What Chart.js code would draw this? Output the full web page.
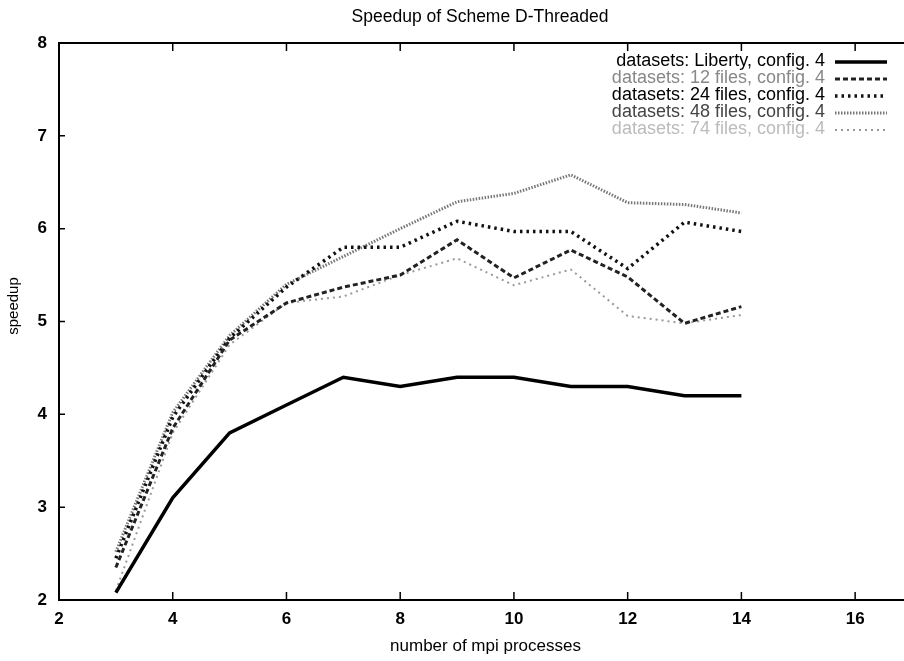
<!DOCTYPE html>
<html>
<head>
<meta charset="utf-8">
<script src="https://cdn.jsdelivr.net/npm/chart.js@4/dist/chart.umd.min.js"></script>
<style>
  html, body { margin: 0; padding: 0; background: #fff; overflow: hidden; }
  #wrap { width: 915px; height: 661px; }
</style>
</head>
<body>
<div id="wrap"><canvas id="myChart"></canvas></div>
<script>
// data
const procs = [3, 4, 5, 6, 7, 8, 9, 10, 11, 12, 13, 14];
const liberty = [2.08, 3.1, 3.8, 4.1, 4.4, 4.3, 4.4, 4.4, 4.3, 4.3, 4.2, 4.2];
const files12 = [2.35, 3.85, 4.8, 5.2, 5.37, 5.5, 5.88, 5.47, 5.77, 5.48, 4.98, 5.16];
const files24 = [2.45, 3.97, 4.82, 5.37, 5.8, 5.8, 6.08, 5.97, 5.97, 5.57, 6.07, 5.97];
const files48 = [2.52, 4.02, 4.85, 5.4, 5.7, 6.0, 6.29, 6.38, 6.58, 6.28, 6.26, 6.17];
const files74 = [2.1, 3.8, 4.75, 5.2, 5.27, 5.5, 5.68, 5.39, 5.56, 5.06, 4.98, 5.07];
const xTicks = [2, 4, 6, 8, 10, 12, 14, 16];
const yTicks = [2, 3, 4, 5, 6, 7, 8];

const pts = arr => arr.map((v, i) => ({ x: procs[i], y: v }));
const FONT = '"Liberation Sans", Arial, sans-serif';

// gnuplot style box: frame + inner ticks + legend on the right + titles
const framePlugin = {
  id: 'frame',
  afterDatasetsDraw(chart) {
    const ctx = chart.ctx;
    const a = chart.chartArea;
    const xs = chart.scales.x, ys = chart.scales.y;
    ctx.save();
    ctx.strokeStyle = '#000';
    ctx.lineWidth = 2;
    ctx.strokeRect(a.left, a.top, a.right - a.left, a.bottom - a.top);
    ctx.lineWidth = 1.5;
    ctx.beginPath();
    xTicks.forEach(v => {
      const px = xs.getPixelForValue(v);
      ctx.moveTo(px, a.bottom); ctx.lineTo(px, a.bottom - 8);
      ctx.moveTo(px, a.top); ctx.lineTo(px, a.top + 8);
    });
    yTicks.forEach(v => {
      const py = ys.getPixelForValue(v);
      ctx.moveTo(a.left, py); ctx.lineTo(a.left + 6, py);
      ctx.moveTo(a.right, py); ctx.lineTo(a.right - 6, py);
    });
    ctx.stroke();

    // legend
    const textColors = ['#000', '#888', '#000', '#444', '#bbb'];
    ctx.font = '18px ' + FONT;
    ctx.textAlign = 'right';
    ctx.textBaseline = 'middle';
    chart.data.datasets.forEach((ds, i) => {
      const y = 61 + i * 17;
      ctx.fillStyle = textColors[i];
      ctx.fillText(ds.label, a.right - 87, y);
      ctx.strokeStyle = ds.borderColor;
      ctx.lineWidth = ds.borderWidth;
      ctx.setLineDash(ds.borderDash || []);
      ctx.beginPath();
      ctx.moveTo(a.right - 77, y + 1);
      ctx.lineTo(a.right - 25, y + 1);
      ctx.stroke();
      ctx.setLineDash([]);
    });

    // title, centred over the plot box like gnuplot does
    ctx.fillStyle = '#000';
    ctx.textAlign = 'center';
    ctx.font = '17.5px ' + FONT;
    ctx.fillText('Speedup of Scheme D-Threaded', 480, 17);

    // y axis title
    ctx.font = '15px ' + FONT;
    ctx.translate(14, 306);
    ctx.rotate(-Math.PI / 2);
    ctx.fillText('speedup', 0, 0);
    ctx.restore();
  }
};

const ctx = document.getElementById('myChart').getContext('2d');
const myChart = new Chart(ctx, {
  type: 'line',
  data: {
    datasets: [
      { label: 'datasets: Liberty, config. 4', data: pts(liberty), borderColor: '#000', borderWidth: 3.5 },
      { label: 'datasets: 12 files, config. 4', data: pts(files12), borderColor: '#222', borderWidth: 3, borderDash: [5, 3] },
      { label: 'datasets: 24 files, config. 4', data: pts(files24), borderColor: '#111', borderWidth: 3.5, borderDash: [2.5, 4] },
      { label: 'datasets: 48 files, config. 4', data: pts(files48), borderColor: '#777', borderWidth: 3, borderDash: [1.5, 1.5] },
      { label: 'datasets: 74 files, config. 4', data: pts(files74), borderColor: '#999', borderWidth: 2, borderDash: [2, 4] }
    ]
  },
  options: {
    responsive: true,
    maintainAspectRatio: false,
    animation: false,
    elements: { point: { radius: 0 }, line: { tension: 0, fill: false } },
    layout: { padding: { top: 43, left: 0, right: 3, bottom: 0 } },
    plugins: {
      legend: { display: false },
      tooltip: { enabled: false },
      title: { display: false }
    },
    scales: {
      x: {
        type: 'linear',
        min: 2,
        max: 17,
        afterBuildTicks: s => { s.ticks = xTicks.map(v => ({ value: v })); },
        afterFit: s => { s.height = 61; },
        grid: { display: false, drawTicks: false },
        border: { display: false },
        ticks: {
          padding: 9,
          color: '#000',
          font: { family: FONT, size: 17, weight: 'bold' }
        },
        title: {
          display: true,
          text: 'number of mpi processes',
          color: '#000',
          padding: { top: 0, bottom: 4 },
          font: { family: FONT, size: 17 }
        }
      },
      y: {
        min: 2,
        max: 8,
        afterBuildTicks: s => { s.ticks = yTicks.map(v => ({ value: v })); },
        afterFit: s => { s.width = 59; },
        grid: { display: false, drawTicks: false },
        border: { display: false },
        ticks: {
          padding: 12,
          color: '#000',
          font: { family: FONT, size: 17, weight: 'bold' }
        },
        title: { display: false }
      }
    }
  },
  plugins: [framePlugin]
});
</script>
</body>
</html>
